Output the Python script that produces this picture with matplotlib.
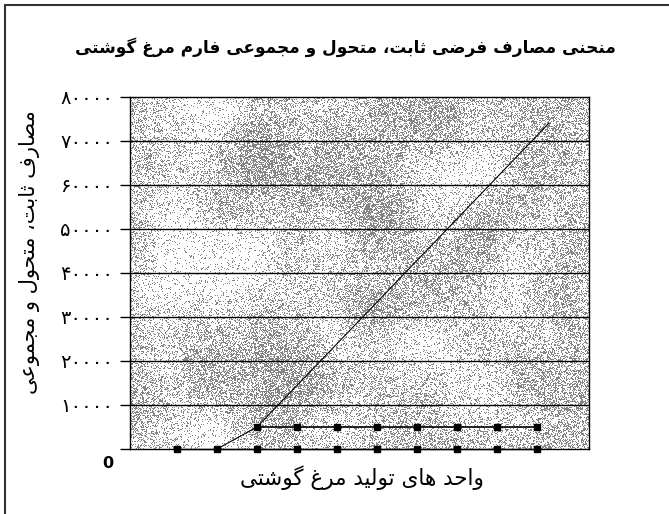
import numpy as np
import matplotlib
matplotlib.use('Agg')
from matplotlib import pyplot as plt
from matplotlib import patches
from matplotlib.transforms import ScaledTranslation

# data
units = [1, 2, 3, 4, 5, 6, 7, 8, 9, 10]
zero_costs = [0, 0, 0, 0, 0, 0, 0, 0, 0, 0]
fixed_units = [3, 4, 5, 6, 7, 8, 9, 10]
fixed_costs = [5000, 5000, 5000, 5000, 5000, 5000, 5000, 5000]
total_units = [2, 3, 10.3]
total_costs = [0, 5000, 74000]
y_ticks = [0, 10000, 20000, 30000, 40000, 50000, 60000, 70000, 80000]

title = 'منحنی مصارف فرضی ثابت، متحول و مجموعی فارم مرغ گوشتی'
x_label = 'واحد های تولید مرغ گوشتی'
y_label = 'مصارف ثابت، متحول و مجموعی'

# contextual forms (isolated, final, initial, medial); None = no such form
FORMS = {
    'ا': ('\uFE8D', '\uFE8E', None, None),
    'ب': ('\uFE8F', '\uFE90', '\uFE91', '\uFE92'),
    'ت': ('\uFE95', '\uFE96', '\uFE97', '\uFE98'),
    'ث': ('\uFE99', '\uFE9A', '\uFE9B', '\uFE9C'),
    'ج': ('\uFE9D', '\uFE9E', '\uFE9F', '\uFEA0'),
    'ح': ('\uFEA1', '\uFEA2', '\uFEA3', '\uFEA4'),
    'د': ('\uFEA9', '\uFEAA', None, None),
    'ر': ('\uFEAD', '\uFEAE', None, None),
    'ش': ('\uFEB5', '\uFEB6', '\uFEB7', '\uFEB8'),
    'ص': ('\uFEB9', '\uFEBA', '\uFEBB', '\uFEBC'),
    'ض': ('\uFEBD', '\uFEBE', '\uFEBF', '\uFEC0'),
    'ع': ('\uFEC9', '\uFECA', '\uFECB', '\uFECC'),
    'غ': ('\uFECD', '\uFECE', '\uFECF', '\uFED0'),
    'ف': ('\uFED1', '\uFED2', '\uFED3', '\uFED4'),
    'ق': ('\uFED5', '\uFED6', '\uFED7', '\uFED8'),
    'ل': ('\uFEDD', '\uFEDE', '\uFEDF', '\uFEE0'),
    'م': ('\uFEE1', '\uFEE2', '\uFEE3', '\uFEE4'),
    'ن': ('\uFEE5', '\uFEE6', '\uFEE7', '\uFEE8'),
    'ه': ('\uFEE9', '\uFEEA', '\uFEEB', '\uFEEC'),
    'و': ('\uFEED', '\uFEEE', None, None),
    'ی': ('\uFBFC', '\uFBFD', '\uFBFE', '\uFBFF'),
    'گ': ('\uFB92', '\uFB93', '\uFB94', '\uFB95'),
}


def joins_next(ch):
    return ch in FORMS and FORMS[ch][2] is not None


def shape(text):
    out = []
    for i, ch in enumerate(text):
        if ch not in FORMS:
            out.append(ch)
            continue
        prev = text[i - 1] if i > 0 else ''
        nxt = text[i + 1] if i + 1 < len(text) else ''
        left = joins_next(prev)
        right = joins_next(ch) and nxt in FORMS
        iso, fin, ini, med = FORMS[ch]
        if left and right:
            out.append(med)
        elif left:
            out.append(fin)
        elif right:
            out.append(ini)
        else:
            out.append(iso)
    return ''.join(out)[::-1]


def fa_digits(n):
    return str(n).translate(str.maketrans('0123456789', '۰۱۲۳۴۵۶۷۸۹'))


plt.rcParams['font.family'] = ['DejaVu Sans']

fig = plt.figure(figsize=(6.69, 5.14), dpi=100)
W, H = 669, 514
ax = fig.add_axes([130 / W, 1 - 449 / H, 459 / W, 352.3 / H])

x_min, x_max = -0.175, 11.3
ax.set_xlim(x_min, x_max)
ax.set_ylim(0, 80000)

# stippled background: gray dots with cloudy density
rng = np.random.default_rng(3)
ny, nx = 352, 459
field = rng.standard_normal((ny, nx))
fy = np.fft.fftfreq(ny)[:, None]
fx = np.fft.fftfreq(nx)[None, :]
smooth = np.real(np.fft.ifft2(np.fft.fft2(field) * np.exp(-(fx**2 + fy**2) * 2 * (22 * np.pi) ** 2)))
smooth = (smooth - smooth.mean()) / smooth.std()
density = np.clip(0.32 + 0.12 * smooth, 0.1, 0.6)
dots = rng.random((ny, nx)) < density
img = np.ones((ny, nx, 3))
img[dots] = 0.52
ax.imshow(img, extent=(x_min, x_max, 0, 80000), aspect='auto',
          interpolation='nearest', zorder=0)

for v in y_ticks[1:-1]:
    ax.axhline(v, color='black', lw=1.0, zorder=1)

ax.plot(total_units, total_costs, color='black', lw=0.8, zorder=2)
ax.plot(fixed_units, fixed_costs, color='black', lw=1.2, marker='s',
        markersize=4.5, zorder=3)
ax.plot(units, zero_costs, color='black', lw=1.0, marker='s',
        markersize=4.5, zorder=3, clip_on=False)

for s in ax.spines.values():
    s.set_color('black')
    s.set_linewidth(1.0)

ax.set_xticks([])
ax.set_yticks(y_ticks)
ax.set_yticklabels(['0'] + [fa_digits(v) for v in y_ticks[1:]], fontsize=14)
ax.tick_params(axis='y', length=7.2, width=1.0, pad=5.0, color='black')
zero_label = ax.get_yticklabels()[0]
zero_label.set_fontsize(11.5)
zero_label.set_fontweight('bold')
zero_label.set_transform(zero_label.get_transform()
                         + ScaledTranslation(0, -9 / 72, fig.dpi_scale_trans))

fig.text(345 / W, 1 - 47 / H, shape(title), ha='center', va='center',
         fontsize=12.2, fontweight='bold')
fig.text(362 / W, 1 - 478 / H, shape(x_label), ha='center', va='center',
         fontsize=15.5)
fig.text(30 / W, 1 - 252 / H, shape(y_label), ha='center', va='center',
         fontsize=15, rotation=90)

# outer frame, open to the right and bottom
fig.add_artist(patches.Rectangle((5 / W, -0.1), 1.2, 1.1 - 5 / H,
                                 transform=fig.transFigure, fill=False,
                                 edgecolor='#333333', lw=1.5))

fig.savefig('out.png', dpi=100)
